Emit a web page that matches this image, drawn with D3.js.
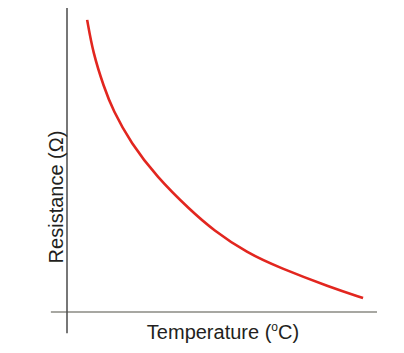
<!DOCTYPE html>
<html>
<head>
<meta charset="utf-8">
<script src="https://cdn.jsdelivr.net/npm/d3@7"></script>
<style>
  body { margin: 0; background: #fff; }
  text { font-family: "Liberation Sans", Arial, sans-serif; fill: #231f20; }
</style>
</head>
<body>
<div id="chart"></div>
<script>
// curve (arbitrary units 0..100)
const temperature = [6.5, 8.4, 11.9, 14.8, 20.6, 29.0, 39.7, 47.1, 58.1, 68.7, 84.8, 95.5];
const resistance  = [96.1, 85.2, 74.0, 66.4, 55.6, 44.4, 33.6, 27.0, 19.4, 14.5, 8.2, 4.6];

const w = 404, h = 353;

const svg = d3.select("#chart")
  .append("svg")
    .attr("width", w)
    .attr("height", h);

const x = d3.scaleLinear().domain([0, 100]).range([67, 377]);
const y = d3.scaleLinear().domain([0, 100]).range([312, 8]);

// horizontal axis (light gray, overshoots left of y axis)
svg.append("line")
  .attr("x1", x(-5.2)).attr("x2", x(100))
  .attr("y1", y(0)).attr("y2", y(0))
  .attr("stroke", "#a7a7a2")
  .attr("stroke-width", 2);

// vertical axis (dark, overshoots below x axis)
svg.append("line")
  .attr("x1", x(0)).attr("x2", x(0))
  .attr("y1", y(100)).attr("y2", y(-7))
  .attr("stroke", "#4a4a4a")
  .attr("stroke-width", 1.5);

const data = temperature.map((t, i) => ({t: t, r: resistance[i]}));

const line = d3.line()
  .x(d => x(d.t))
  .y(d => y(d.r))
  .curve(d3.curveBasis);

svg.append("path")
  .datum(data)
  .attr("d", line)
  .attr("fill", "none")
  .attr("stroke", "#e2261f")
  .attr("stroke-width", 2.6);

// axis titles
const xt = svg.append("text")
  .attr("x", 223)
  .attr("y", 339)
  .attr("text-anchor", "middle")
  .style("font-size", "20px");
xt.append("tspan").text("Temperature (");
xt.append("tspan").attr("dy", -8).style("font-size", "12px").text("o");
xt.append("tspan").attr("dy", 8).text("C)");

svg.append("text")
  .attr("transform", "translate(63,197) rotate(-90)")
  .attr("text-anchor", "middle")
  .style("font-size", "20px")
  .text("Resistance (\u03A9)");
</script>
</body>
</html>
